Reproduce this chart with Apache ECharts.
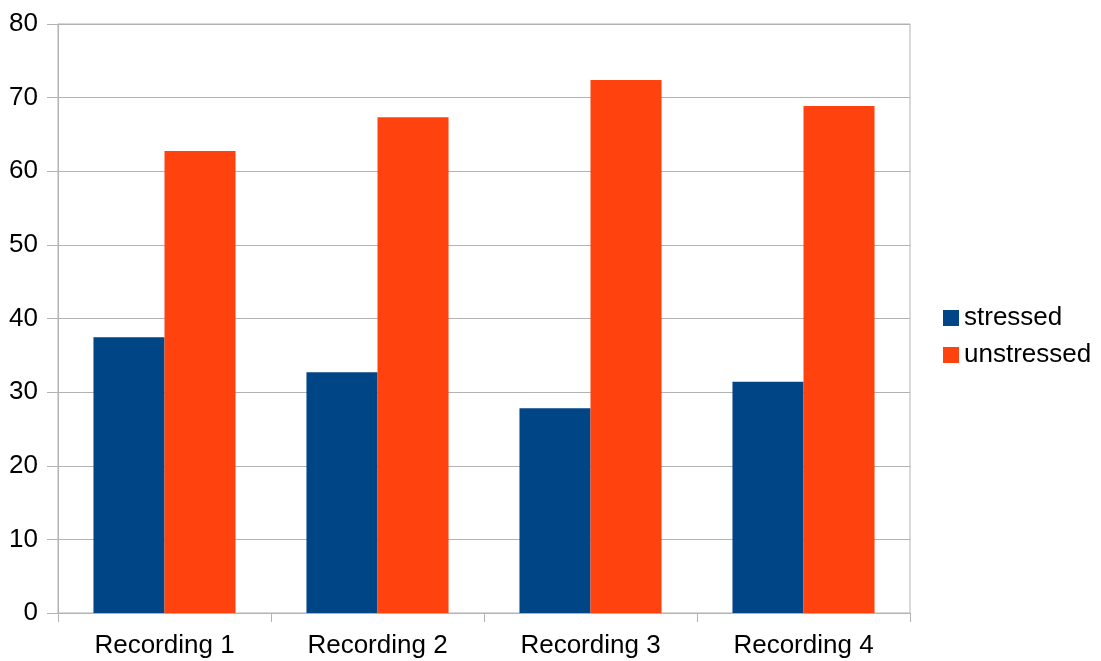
<!DOCTYPE html>
<html>
<head>
<meta charset="utf-8">
<script src="https://cdn.jsdelivr.net/npm/echarts@6/dist/echarts.min.js"></script>
<style>
html,body{margin:0;padding:0;background:#fff;}
#c{width:1101px;height:661px;}
</style>
</head>
<body>
<div id="c"></div>
<script>
const categories = ["Recording 1", "Recording 2", "Recording 3", "Recording 4"];
const stressed = [37.45, 32.7, 27.8, 31.4];
const unstressed = [62.75, 67.35, 72.4, 68.85];
const yTicks = [0, 10, 20, 30, 40, 50, 60, 70, 80];

const chart = echarts.init(document.getElementById('c'));
const font = 'Liberation Sans';
chart.setOption({
  animation: false,
  backgroundColor: '#ffffff',
  textStyle: { fontFamily: font },
  grid: {
    left: 58, right: 191, top: 24, bottom: 48,
    show: true, borderColor: '#b3b3b3', borderWidth: 1, backgroundColor: 'transparent'
  },
  legend: {
    orient: 'vertical',
    left: 938, top: 300,
    itemWidth: 16, itemHeight: 16,
    itemGap: 11,
    icon: 'rect',
    textStyle: { fontFamily: font, fontSize: 26, color: '#000' },
    data: ['stressed', 'unstressed']
  },
  xAxis: {
    type: 'category',
    data: categories,
    axisLine: { lineStyle: { color: '#b3b3b3', width: 1 } },
    axisTick: { show: true, length: 9, alignWithLabel: false, lineStyle: { color: '#b3b3b3' } },
    axisLabel: { color: '#000', fontSize: 26, fontFamily: font, margin: 20 }
  },
  yAxis: {
    type: 'value',
    min: yTicks[0], max: yTicks[yTicks.length - 1], interval: 10,
    axisLine: { show: true, lineStyle: { color: '#b3b3b3', width: 1 } },
    axisTick: { show: true, length: 11, lineStyle: { color: '#b3b3b3' } },
    axisLabel: { color: '#000', fontSize: 26, fontFamily: font, margin: 20 },
    splitLine: { show: true, lineStyle: { color: '#b3b3b3', width: 1 } }
  },
  series: [
    {
      name: 'stressed', type: 'bar', data: stressed,
      itemStyle: { color: '#004586' },
      barGap: '0%', barCategoryGap: '33.3%'
    },
    {
      name: 'unstressed', type: 'bar', data: unstressed,
      itemStyle: { color: '#ff420e' },
      barGap: '0%', barCategoryGap: '33.3%'
    }
  ]
});
</script>
</body>
</html>
